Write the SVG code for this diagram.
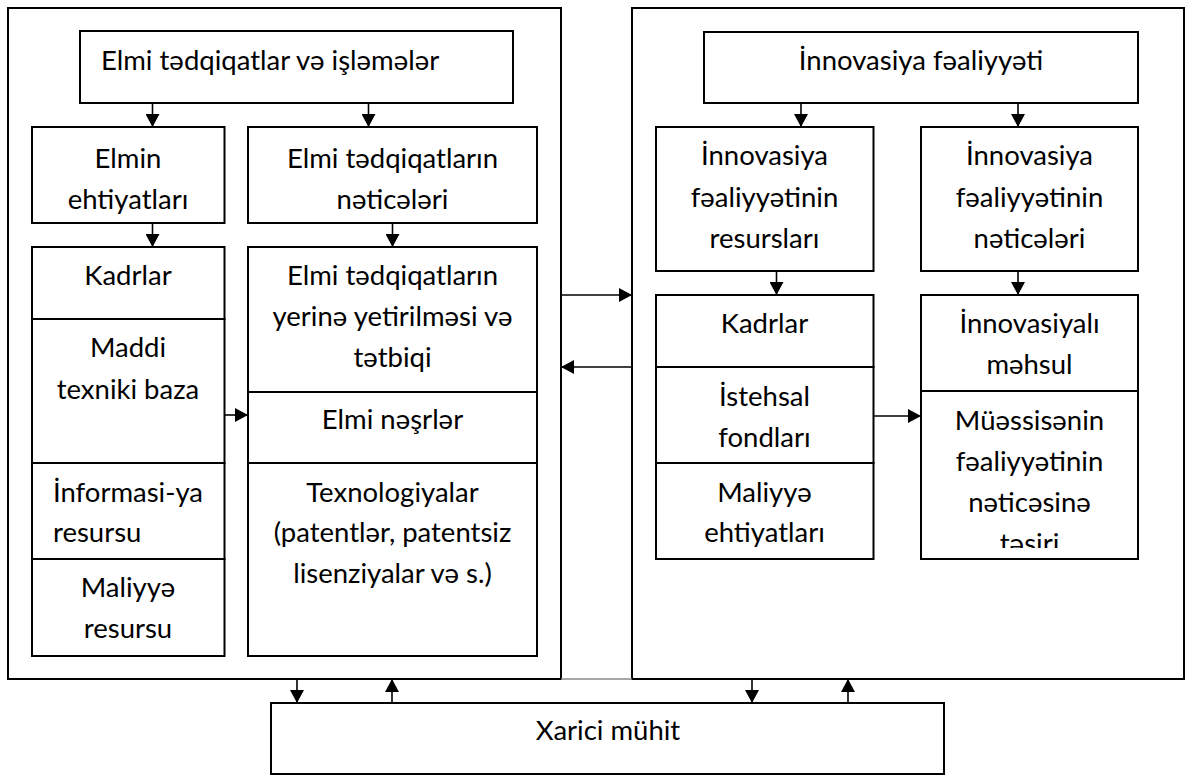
<svg xmlns="http://www.w3.org/2000/svg" width="1189" height="776" viewBox="0 0 1189 776">
<style>
.b{fill:#fff;stroke:#000;stroke-width:2}
.frame{fill:none;stroke:#000;stroke-width:2}
text{font-family:Lato,"Open Sans","Liberation Sans",sans-serif;font-size:27.5px;fill:#000;text-anchor:middle}
.l{text-anchor:start}
.c line{stroke:#000;stroke-width:1.6;marker-end:url(#ah)}
</style>
<defs>
<marker id="ah" markerUnits="userSpaceOnUse" markerWidth="13" markerHeight="14" viewBox="0 0 13 14" refX="13" refY="7" orient="auto">
<path d="M0,0 L13,7 L0,14 z" fill="#000"/>
</marker>
<clipPath id="clip10"><rect x="921" y="391" width="217" height="157"/></clipPath>
</defs>
<rect fill="#fff" x="0" y="0" width="1189" height="776"/>
<g id="frame-left"><rect class="frame" x="8" y="8" width="553" height="671"/></g>
<g id="frame-right"><rect class="frame" x="632" y="8" width="552" height="671"/></g>
<line x1="561" y1="679" x2="632" y2="679" stroke="#8a8a8a" stroke-width="1.5"/>

<g id="n1"><rect class="b" x="80" y="31" width="433" height="72"/><text class="l" x="101" y="70">Elmi tədqiqatlar və işləmələr</text></g>
<g id="n2"><rect class="b" x="32" y="127" width="192.5" height="96"/><text x="128" y="168">Elmin</text><text x="128" y="209">ehtiyatları</text></g>
<g id="n3"><rect class="b" x="248" y="127" width="289" height="96"/><text x="392.5" y="168">Elmi tədqiqatların</text><text x="392.5" y="209">nəticələri</text></g>

<g id="n4">
<rect class="b" x="32" y="247" width="192.5" height="72"/><text x="128" y="285">Kadrlar</text>
<rect class="b" x="32" y="319" width="192.5" height="144"/><text x="128" y="357">Maddi</text><text x="128" y="399">texniki baza</text>
<rect class="b" x="32" y="463" width="192.5" height="96"/><text class="l" x="53" y="502">İnformasi-ya</text><text class="l" x="53" y="542">resursu</text>
<rect class="b" x="32" y="559" width="192.5" height="97"/><text x="128" y="597">Maliyyə</text><text x="128" y="638">resursu</text>
</g>
<g id="n5">
<rect class="b" x="248" y="247" width="289" height="145"/><text x="392.5" y="285">Elmi tədqiqatların</text><text x="392.5" y="326">yerinə yetirilməsi və</text><text x="392.5" y="367">tətbiqi</text>
<rect class="b" x="248" y="392" width="289" height="71"/><text x="392.5" y="429">Elmi nəşrlər</text>
<rect class="b" x="248" y="463" width="289" height="193"/><text x="392.5" y="502">Texnologiyalar</text><text x="392.5" y="542">(patentlər, patentsiz</text><text x="392.5" y="583">lisenziyalar və s.)</text>
</g>

<g id="n6"><rect class="b" x="704" y="32" width="434" height="71"/><text x="921" y="70">İnnovasiya fəaliyyəti</text></g>
<g id="n7"><rect class="b" x="656" y="127" width="217.5" height="144"/><text x="764.5" y="165">İnnovasiya</text><text x="764.5" y="207">fəaliyyətinin</text><text x="764.5" y="248">resursları</text></g>
<g id="n8"><rect class="b" x="921" y="127" width="217" height="144"/><text x="1029.5" y="165">İnnovasiya</text><text x="1029.5" y="207">fəaliyyətinin</text><text x="1029.5" y="248">nəticələri</text></g>

<g id="n9">
<rect class="b" x="656" y="295" width="217.5" height="72"/><text x="764.5" y="333">Kadrlar</text>
<rect class="b" x="656" y="367" width="217.5" height="96"/><text x="764.5" y="406">İstehsal</text><text x="764.5" y="447">fondları</text>
<rect class="b" x="656" y="463" width="217.5" height="96"/><text x="764.5" y="502">Maliyyə</text><text x="764.5" y="542">ehtiyatları</text>
</g>
<g id="n10">
<rect class="b" x="921" y="295" width="217" height="96"/><text x="1029.5" y="333">İnnovasiyalı</text><text x="1029.5" y="374">məhsul</text>
<rect class="b" x="921" y="391" width="217" height="168"/>
<g clip-path="url(#clip10)"><text x="1029.5" y="430">Müəssisənin</text><text x="1029.5" y="471">fəaliyyətinin</text><text x="1029.5" y="512">nəticəsinə</text><text x="1029.5" y="553">təsiri</text></g>
</g>

<g id="n11"><rect class="b" x="271" y="703" width="673" height="71"/><text x="608" y="740">Xarici mühit</text></g>

<g id="connectors" class="c">
<line x1="152.5" y1="103" x2="152.5" y2="127"/>
<line x1="368.5" y1="103" x2="368.5" y2="127"/>
<line x1="152.5" y1="223" x2="152.5" y2="247"/>
<line x1="392.5" y1="223" x2="392.5" y2="247"/>
<line x1="224.5" y1="415" x2="248" y2="415"/>
<line x1="561" y1="295" x2="632" y2="295"/>
<line x1="632" y1="367" x2="561" y2="367"/>
<line x1="801" y1="103" x2="801" y2="127"/>
<line x1="1018" y1="103" x2="1018" y2="127"/>
<line x1="776.5" y1="271" x2="776.5" y2="295"/>
<line x1="1018" y1="271" x2="1018" y2="295"/>
<line x1="873.5" y1="416" x2="921" y2="416"/>
<line x1="297" y1="679" x2="297" y2="703"/>
<line x1="392" y1="703" x2="392" y2="679"/>
<line x1="752" y1="679" x2="752" y2="703"/>
<line x1="848" y1="703" x2="848" y2="679"/>
</g>
</svg>
